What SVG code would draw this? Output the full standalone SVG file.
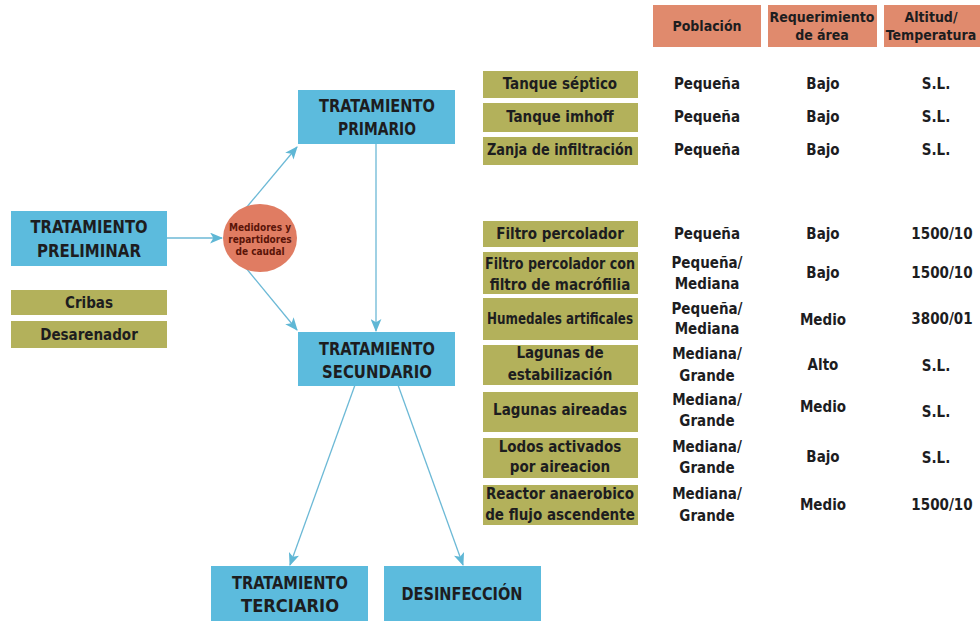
<svg xmlns="http://www.w3.org/2000/svg" width="980" height="621" viewBox="0 0 980 621">
<defs>
<marker id="ah" viewBox="0 0 12 10" refX="11" refY="5" markerWidth="13" markerHeight="11" markerUnits="userSpaceOnUse" orient="auto">
<path d="M0,0 L12,5 L0,10 L3,5 Z" fill="#5fb7d5"/>
</marker>
<style>
text{font-family:"Liberation Sans Narrow","DejaVu Sans Condensed","Liberation Sans",Arial,sans-serif;font-weight:bold;fill:#1d1d1f;text-anchor:middle}
.blue{fill:#5cbbdd}
.olive{fill:#b3b15b}
.head{fill:#e08a6d}
.bt{font-size:18px}
.tt{font-size:15px}
.ht{font-size:14px}
.ct{font-size:10px;fill:#5a1408}
.conn line{stroke:#6cb9d6;stroke-width:1.3;marker-end:url(#ah)}
</style>
</defs>
<rect width="980" height="621" fill="#ffffff"/>

<g class="conn" id="connectors">
<line x1="167" y1="238" x2="222" y2="238"/>
<line x1="246" y1="208" x2="297" y2="147"/>
<line x1="246" y1="268" x2="297" y2="330"/>
<line x1="376" y1="144" x2="376" y2="331"/>
<line x1="355" y1="385" x2="290" y2="565"/>
<line x1="398" y1="385" x2="463" y2="565"/>
</g>

<g id="header-poblacion"><rect class="head" x="653" y="5" width="108" height="42"/><text class="ht" x="707" y="31">Población</text></g>
<g id="header-area"><rect class="head" x="768" y="5" width="109" height="42"/><text class="ht" x="822" y="22">Requerimiento</text><text class="ht" x="822" y="40">de área</text></g>
<g id="header-altitud"><rect class="head" x="884" y="5" width="100" height="42"/><text class="ht" x="931" y="22">Altitud/</text><text class="ht" x="931" y="40">Temperatura</text></g>

<g id="preliminar"><rect class="blue" x="11" y="211" width="156" height="55"/><text class="bt" x="89" y="233" textLength="117" lengthAdjust="spacingAndGlyphs">TRATAMIENTO</text><text class="bt" x="89" y="257" textLength="104" lengthAdjust="spacingAndGlyphs">PRELIMINAR</text></g>
<g id="cribas"><rect class="olive" x="11" y="290" width="156" height="25"/><text class="tt" x="89" y="308">Cribas</text></g>
<g id="desarenador"><rect class="olive" x="11" y="321" width="156" height="27"/><text class="tt" x="89" y="340">Desarenador</text></g>

<g id="medidores"><ellipse cx="260" cy="238" rx="37" ry="34" fill="#e07c62"/><text class="ct" x="260" y="231">Medidores y</text><text class="ct" x="260" y="243">repartidores</text><text class="ct" x="260" y="255">de caudal</text></g>

<g id="primario"><rect class="blue" x="298" y="90" width="157" height="54"/><text class="bt" x="377" y="112" textLength="116" lengthAdjust="spacingAndGlyphs">TRATAMIENTO</text><text class="bt" x="377" y="135" textLength="78" lengthAdjust="spacingAndGlyphs">PRIMARIO</text></g>
<g id="secundario"><rect class="blue" x="298" y="332" width="157" height="54"/><text class="bt" x="377" y="355" textLength="116" lengthAdjust="spacingAndGlyphs">TRATAMIENTO</text><text class="bt" x="377" y="378" textLength="110" lengthAdjust="spacingAndGlyphs">SECUNDARIO</text></g>
<g id="terciario"><rect class="blue" x="211" y="566" width="157" height="55"/><text class="bt" x="290" y="589" textLength="116" lengthAdjust="spacingAndGlyphs">TRATAMIENTO</text><text class="bt" x="290" y="612" textLength="98" lengthAdjust="spacingAndGlyphs">TERCIARIO</text></g>
<g id="desinfeccion"><rect class="blue" x="384" y="566" width="157" height="55"/><text class="bt" x="462" y="600" textLength="121" lengthAdjust="spacingAndGlyphs">DESINFECCIÓN</text></g>

<g id="tanque-septico"><rect class="olive" x="483" y="71" width="155" height="27"/><text class="tt" x="560" y="89">Tanque séptico</text><text class="tt" x="707" y="89">Pequeña</text><text class="tt" x="823" y="89">Bajo</text><text class="tt" x="936" y="89">S.L.</text></g>
<g id="tanque-imhoff"><rect class="olive" x="483" y="103" width="155" height="29"/><text class="tt" x="560" y="122">Tanque imhoff</text><text class="tt" x="707" y="122">Pequeña</text><text class="tt" x="823" y="122">Bajo</text><text class="tt" x="936" y="122">S.L.</text></g>
<g id="zanja"><rect class="olive" x="483" y="137" width="155" height="28"/><text class="tt" x="560" y="155" textLength="146" lengthAdjust="spacingAndGlyphs">Zanja de infiltración</text><text class="tt" x="707" y="155">Pequeña</text><text class="tt" x="823" y="155">Bajo</text><text class="tt" x="936" y="155">S.L.</text></g>

<g id="filtro-percolador"><rect class="olive" x="483" y="221" width="155" height="26"/><text class="tt" x="560" y="239">Filtro percolador</text><text class="tt" x="707" y="239">Pequeña</text><text class="tt" x="823" y="239">Bajo</text><text class="tt" x="942" y="239">1500/10</text></g>
<g id="filtro-macrofilia"><rect class="olive" x="483" y="252" width="155" height="42"/><text class="tt" x="560" y="269" textLength="150" lengthAdjust="spacingAndGlyphs">Filtro percolador con</text><text class="tt" x="560" y="290">filtro de macrófilia</text><text class="tt" x="707" y="268">Pequeña/</text><text class="tt" x="707" y="289">Mediana</text><text class="tt" x="823" y="278">Bajo</text><text class="tt" x="942" y="278">1500/10</text></g>
<g id="humedales"><rect class="olive" x="483" y="298" width="155" height="42"/><text class="tt" x="560" y="324" textLength="146" lengthAdjust="spacingAndGlyphs">Humedales artificales</text><text class="tt" x="707" y="314">Pequeña/</text><text class="tt" x="707" y="334">Mediana</text><text class="tt" x="823" y="325">Medio</text><text class="tt" x="942" y="324">3800/01</text></g>
<g id="lagunas-estabilizacion"><rect class="olive" x="483" y="345" width="155" height="40"/><text class="tt" x="560" y="358">Lagunas de</text><text class="tt" x="560" y="380">estabilización</text><text class="tt" x="707" y="359">Mediana/</text><text class="tt" x="707" y="381">Grande</text><text class="tt" x="823" y="370">Alto</text><text class="tt" x="936" y="371">S.L.</text></g>
<g id="lagunas-aireadas"><rect class="olive" x="483" y="392" width="155" height="40"/><text class="tt" x="560" y="415">Lagunas aireadas</text><text class="tt" x="707" y="405">Mediana/</text><text class="tt" x="707" y="426">Grande</text><text class="tt" x="823" y="412">Medio</text><text class="tt" x="936" y="417">S.L.</text></g>
<g id="lodos"><rect class="olive" x="483" y="438" width="155" height="40"/><text class="tt" x="560" y="452">Lodos activados</text><text class="tt" x="560" y="472">por aireacion</text><text class="tt" x="707" y="452">Mediana/</text><text class="tt" x="707" y="473">Grande</text><text class="tt" x="823" y="462">Bajo</text><text class="tt" x="936" y="463">S.L.</text></g>
<g id="reactor"><rect class="olive" x="483" y="485" width="155" height="40"/><text class="tt" x="560" y="499">Reactor anaerobico</text><text class="tt" x="560" y="520">de flujo ascendente</text><text class="tt" x="707" y="499">Mediana/</text><text class="tt" x="707" y="521">Grande</text><text class="tt" x="823" y="510">Medio</text><text class="tt" x="942" y="510">1500/10</text></g>
</svg>
